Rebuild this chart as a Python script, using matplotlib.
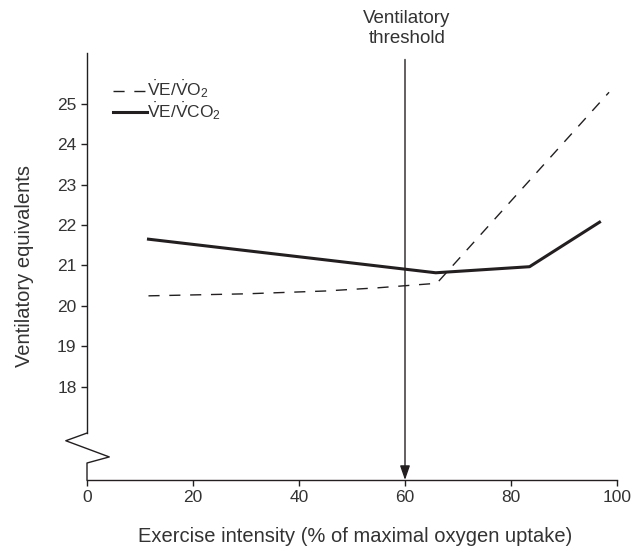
import numpy as np
from matplotlib import pyplot as plt
from matplotlib.lines import Line2D

plt.rcParams['font.family'] = ['Liberation Sans', 'DejaVu Sans']
plt.rcParams['mathtext.fontset'] = 'custom'
plt.rcParams['mathtext.rm'] = 'Liberation Sans'
plt.rcParams['mathtext.it'] = 'Liberation Sans'

ink = '#231f20'
txt = '#333333'

# exercise intensity (% of VO2max) vs ventilatory equivalents
ve_vo2_x = [11.6, 30, 45, 55, 66, 98.5]
ve_vo2_y = [20.25, 20.30, 20.37, 20.45, 20.56, 25.28]
ve_vco2_x = [11.6, 65.8, 83.5, 96.7]
ve_vco2_y = [21.65, 20.82, 20.97, 22.07]

series_labels = [r'$\dot{\rm V}$E/$\dot{\rm V}$O$_2$', r'$\dot{\rm V}$E/$\dot{\rm V}$CO$_2$']

threshold_x = 60
x_ticks = [0, 20, 40, 60, 80, 100]
y_ticks = [18, 19, 20, 21, 22, 23, 24, 25]
y_lo, y_hi = 15.70, 26.25

W, H = 639, 548


def fx(px):
    return px / W


def fy(py):
    return 1 - py / H


fig = plt.figure(figsize=(W / 100, H / 100), dpi=100)
ax = fig.add_axes([fx(87), fy(480), 530 / W, 427 / H])
ax.set_xlim(0, 100)
ax.set_ylim(y_lo, y_hi)

dash = (0, (8, 7))
ax.plot(ve_vo2_x, ve_vo2_y, color=ink, lw=1.0, linestyle=dash)
ax.plot(ve_vco2_x, ve_vco2_y, color=ink, lw=2.2)

for s in ['top', 'right']:
    ax.spines[s].set_visible(False)
for s in ['left', 'bottom']:
    ax.spines[s].set_color(ink)
    ax.spines[s].set_linewidth(1.0)

# broken y axis
brk_top, brk_bot = 16.86, 16.12
ax.spines['left'].set_bounds(brk_top, y_hi)
ax.add_line(Line2D([0, -4.0, 4.2, 0, 0], [brk_top, 16.67, 16.27, brk_bot, y_lo],
                   color=ink, lw=1.0, clip_on=False))

ax.set_xticks(x_ticks)
ax.set_yticks(y_ticks)
ax.tick_params(colors=ink, labelsize=12.5, length=4.5, width=1.0, direction='out', pad=3)
for lab in ax.get_xticklabels() + ax.get_yticklabels():
    lab.set_color(txt)

fig.text(fx(355), fy(536), 'Exercise intensity (% of maximal oxygen uptake)',
         ha='center', va='center', fontsize=14.5, color=txt)
fig.text(fx(25), fy(266), 'Ventilatory equivalents', rotation=90,
         ha='center', va='center', fontsize=14.5, color=txt)

# ventilatory threshold arrow
ax.annotate('', xy=(threshold_x, y_lo), xytext=(threshold_x, 26.09),
            arrowprops=dict(arrowstyle='-|>,head_length=0.86,head_width=0.3',
                            mutation_scale=10, color=ink, lw=1.0,
                            shrinkA=0, shrinkB=0),
            annotation_clip=False)
fig.text(fx(407), fy(47), 'Ventilatory\nthreshold', ha='center', va='bottom',
         fontsize=13.5, color=txt, linespacing=1.2)

# legend, drawn by hand to get the tight rows
for (style, lw), label, ly, by in zip([(dash, 1.0), ('-', 2.2)], series_labels,
                                      [91, 112], [95.5, 117.5]):
    fig.add_artist(Line2D([fx(113), fx(147)], [fy(ly), fy(ly)], color=ink,
                          lw=lw, linestyle=style, transform=fig.transFigure))
    fig.text(fx(147), fy(by), label, ha='left', va='baseline', fontsize=12.5, color=txt)

fig.savefig('out.png', dpi=100)
